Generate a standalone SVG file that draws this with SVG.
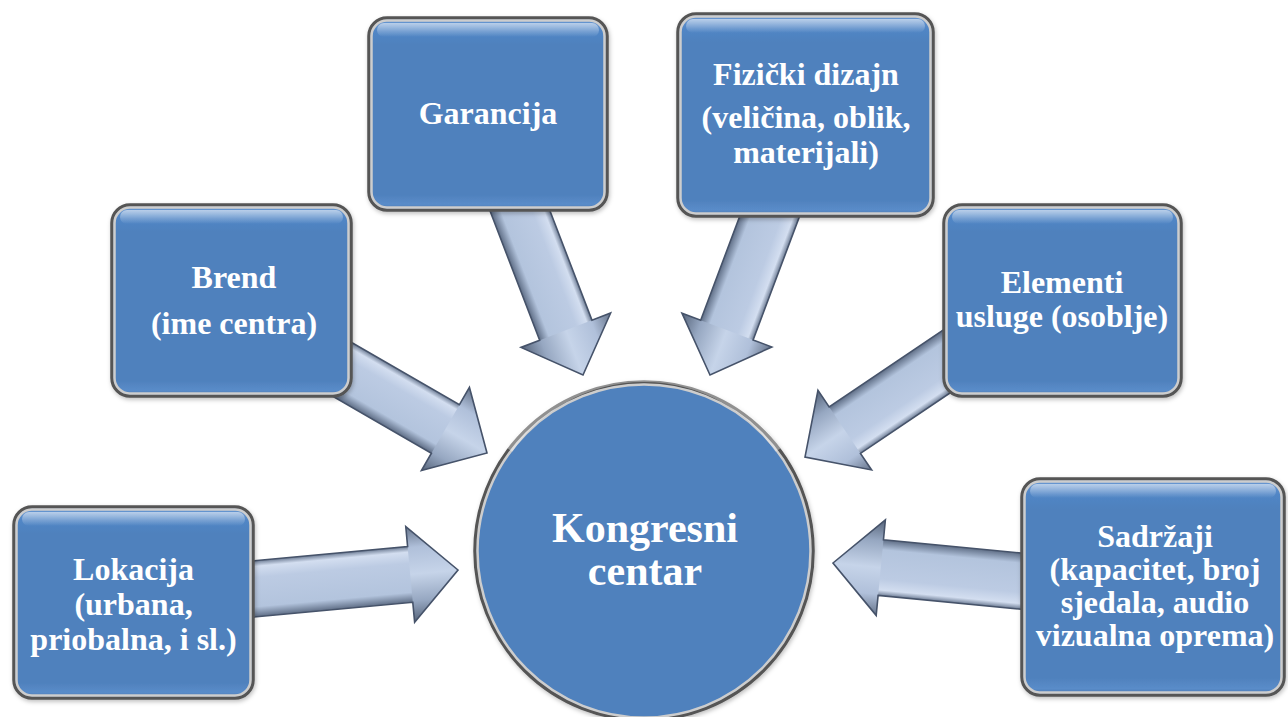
<svg xmlns="http://www.w3.org/2000/svg" xmlns:xlink="http://www.w3.org/1999/xlink" width="1288" height="717" viewBox="0 0 1288 717">
<style>
.box{fill:url(#boxFill);stroke:#555555;stroke-width:3.5}
.rim{fill:none;stroke:#cdcdcd;stroke-width:2.5}
.gloss{fill:url(#glossGrad)}
.lbl{font-family:"Liberation Serif","Times New Roman","DejaVu Serif",serif;font-weight:bold;font-size:32px;fill:#ffffff;text-anchor:middle}
.big{font-size:42px}
.shaft{fill:url(#shaftGrad)}
.head{fill:url(#headGrad)}
.aline{fill:none;stroke:#46536a;stroke-width:1.6;stroke-linejoin:miter}
</style>
<defs>
<linearGradient id="boxFill" x1="0" y1="0" x2="0" y2="1">
<stop offset="0" stop-color="#6e9bd4"/>
<stop offset="0.07" stop-color="#5186c6"/>
<stop offset="0.14" stop-color="#4f81bd"/>
<stop offset="0.92" stop-color="#4f81bd"/>
<stop offset="0.97" stop-color="#5a8cc9"/>
<stop offset="1" stop-color="#4775ad"/>
</linearGradient>
<linearGradient id="glossGrad" x1="0" y1="0" x2="0" y2="1">
<stop offset="0" stop-color="#ffffff" stop-opacity="0.55"/>
<stop offset="1" stop-color="#ffffff" stop-opacity="0"/>
</linearGradient>
<linearGradient id="shaftGrad" gradientUnits="userSpaceOnUse" x1="0" y1="-28" x2="0" y2="28">
<stop offset="0" stop-color="#6f7e96"/>
<stop offset="0.1" stop-color="#d3def0"/>
<stop offset="0.3" stop-color="#bccbe3"/>
<stop offset="0.82" stop-color="#b3c4dd"/>
<stop offset="1" stop-color="#5f6e86"/>
</linearGradient>
<linearGradient id="headGrad" gradientUnits="userSpaceOnUse" x1="0" y1="-48" x2="0" y2="48">
<stop offset="0" stop-color="#66748b"/>
<stop offset="0.22" stop-color="#b0c0da"/>
<stop offset="0.5" stop-color="#c6d4e9"/>
<stop offset="0.78" stop-color="#96a7c1"/>
<stop offset="1" stop-color="#56647a"/>
</linearGradient>
<path id="arw" d="M -215,-28 H -48 V -48 L 0,0 L -48,48 V 28 H -215 Z"/>
<path id="arwHead" d="M -48,-48 L 0,0 L -48,48 Z"/>
<filter id="sh" x="-10%" y="-10%" width="120%" height="120%">
<feDropShadow dx="1" dy="2" stdDeviation="2" flood-color="#000" flood-opacity="0.25"/>
</filter>
</defs>
<rect width="1288" height="717" fill="#ffffff"/>

<g id="connectors">
<g transform="translate(458,570) rotate(-5.3)"><use href="#arw" class="shaft"/><use href="#arwHead" class="head"/><use href="#arw" class="aline"/></g>
<g transform="translate(487,453) rotate(30)"><use href="#arw" class="shaft"/><use href="#arwHead" class="head"/><use href="#arw" class="aline"/></g>
<g transform="translate(583,375) rotate(69)"><use href="#arw" class="shaft"/><use href="#arwHead" class="head"/><use href="#arw" class="aline"/></g>
<g transform="translate(710,375) rotate(110.6)"><use href="#arw" class="shaft"/><use href="#arwHead" class="head"/><use href="#arw" class="aline"/></g>
<g transform="translate(805,457) rotate(146)"><use href="#arw" class="shaft"/><use href="#arwHead" class="head"/><use href="#arw" class="aline"/></g>
<g transform="translate(833,563) rotate(185.5)"><use href="#arw" class="shaft"/><use href="#arwHead" class="head"/><use href="#arw" class="aline"/></g>
</g>

<g id="center">
<circle cx="644" cy="551" r="169" fill="#4f81bd" stroke="#555555" stroke-width="3.5" filter="url(#sh)"/>
<circle cx="644" cy="551" r="166.5" fill="none" stroke="#cdcdcd" stroke-width="2.5"/>
<path d="M 510,450 A 162,162 0 0 1 778,450" fill="none" stroke="#ffffff" stroke-opacity="0.35" stroke-width="6"/>
<text class="lbl big" x="645" y="542" font-family="Liberation Serif, serif">Kongresni</text>
<text class="lbl big" x="645" y="585" font-family="Liberation Serif, serif">centar</text>
</g>

<g id="lokacija">
<rect class="box" x="14" y="507" width="239" height="191" rx="18" filter="url(#sh)"/>
<rect class="rim" x="16.5" y="509.5" width="234" height="186" rx="15.5"/>
<rect class="gloss" x="22" y="512" width="223" height="14" rx="7"/>
<text class="lbl" x="133.5" y="580">Lokacija</text>
<text class="lbl" x="133.5" y="615">(urbana,</text>
<text class="lbl" x="133.5" y="650">priobalna, i sl.)</text>
</g>

<g id="brend">
<rect class="box" x="112" y="205" width="239" height="191" rx="18" filter="url(#sh)"/>
<rect class="rim" x="114.5" y="207.5" width="234" height="186" rx="15.5"/>
<rect class="gloss" x="120" y="210" width="223" height="14" rx="7"/>
<text class="lbl" x="234" y="288">Brend</text>
<text class="lbl" x="234" y="334">(ime centra)</text>
</g>

<g id="garancija">
<rect class="box" x="369" y="18" width="238" height="192" rx="18" filter="url(#sh)"/>
<rect class="rim" x="371.5" y="20.5" width="233" height="187" rx="15.5"/>
<rect class="gloss" x="377" y="23" width="222" height="14" rx="7"/>
<text class="lbl" x="488" y="124">Garancija</text>
</g>

<g id="fizicki">
<rect class="box" x="678" y="14" width="255" height="202" rx="18" filter="url(#sh)"/>
<rect class="rim" x="680.5" y="16.5" width="250" height="197" rx="15.5"/>
<rect class="gloss" x="686" y="19" width="239" height="14" rx="7"/>
<text class="lbl" x="806" y="85">Fizički dizajn</text>
<text class="lbl" x="806" y="128">(veličina, oblik,</text>
<text class="lbl" x="806" y="163">materijali)</text>
</g>

<g id="elementi">
<rect class="box" x="944" y="205" width="237" height="191" rx="18" filter="url(#sh)"/>
<rect class="rim" x="946.5" y="207.5" width="232" height="186" rx="15.5"/>
<rect class="gloss" x="952" y="210" width="221" height="14" rx="7"/>
<text class="lbl" x="1062" y="293">Elementi</text>
<text class="lbl" x="1062" y="327">usluge (osoblje)</text>
</g>

<g id="sadrzaji">
<rect class="box" x="1022" y="479" width="262" height="216" rx="18" filter="url(#sh)"/>
<rect class="rim" x="1024.5" y="481.5" width="257" height="211" rx="15.5"/>
<rect class="gloss" x="1030" y="484" width="246" height="14" rx="7"/>
<text class="lbl" x="1155" y="547">Sadržaji</text>
<text class="lbl" x="1155" y="580">(kapacitet, broj</text>
<text class="lbl" x="1155" y="613">sjedala, audio</text>
<text class="lbl" x="1155" y="646">vizualna oprema)</text>
</g>
</svg>
